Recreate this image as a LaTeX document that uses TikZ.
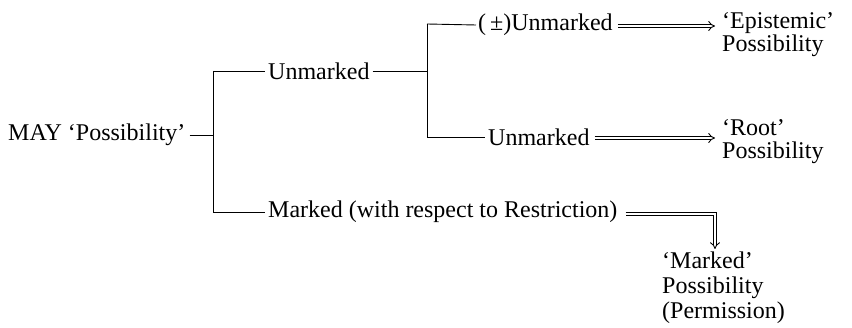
\documentclass[tikz,border=0pt]{standalone}
\usepackage{fontspec}
\setmainfont{Liberation Serif}
\usetikzlibrary{arrows.meta}
\begin{document}
\begin{tikzpicture}[x=1pt,y=1pt,
  lbl/.style={inner sep=0pt,anchor=west,font=\fontsize{24}{24}\selectfont},
  blk/.style={inner sep=0pt,anchor=north west,align=left,font=\fontsize{24}{24}\selectfont},
  ln/.style={line width=0.9pt},
  dbl/.style={double,double distance=2.6pt,line width=0.9pt,-{Implies[length=7pt,width=12pt]}}]
\useasboundingbox (0,0) rectangle (852,-328);
% root
\node[lbl] (may) at (8,-135) {MAY ‘Possibility’};
\coordinate (b1t) at (213,-71);
\coordinate (b1m) at (213,-135);
\coordinate (b1b) at (213,-212);
\draw[ln] ([xshift=4pt]may.east) -- (b1m);
\draw[ln] (b1t) -- (b1b);
% upper branch
\node[lbl] (un1) at (268,-71) {Unmarked};
\coordinate (b2m) at (427,-71);
\coordinate (b2t) at (427,-24);
\coordinate (b2b) at (427,-137);
\draw[ln] (b1t) -- ([xshift=-3pt]un1.west);
\draw[ln] ([xshift=3pt]un1.east) -- (b2m);
\draw[ln] (b2t) -- (b2b);
\node[lbl] (pm) at (478,-25) {(\,\raisebox{0.5pt}{±})Unmarked};
\node[lbl] (un2) at (488,-137) {Unmarked};
\draw[ln] (b2t) -- ([xshift=-2pt]pm.west);
\draw[ln] (b2b) -- ([xshift=-3pt]un2.west);
% results
\node[blk] (ep) at (722,-12) {‘Epistemic’\\[-1pt]Possibility};
\node[blk] (rt) at (722,-119) {‘Root’\\[-1pt]Possibility};
\coordinate (epa) at (715,-26);
\coordinate (rta) at (715,-138);
\draw[dbl] ([xshift=5pt,yshift=-1pt]pm.east) -- (epa);
\draw[dbl] ([xshift=5pt]un2.east |- rta) -- (rta);
% marked branch
\node[lbl] (mk) at (268,-212) {Marked (with respect to Restriction)};
\draw[ln] (b1b) -- ([xshift=-3pt]mk.west);
\coordinate (mt) at (715,-249);
\node[blk] (pr) at (662,-252) {‘Marked’\\[1pt]Possibility\\[1pt](Permission)};
\draw[dbl] ([xshift=8pt]mk.east |- 0,-214) -| (mt);
\end{tikzpicture}
\end{document}
